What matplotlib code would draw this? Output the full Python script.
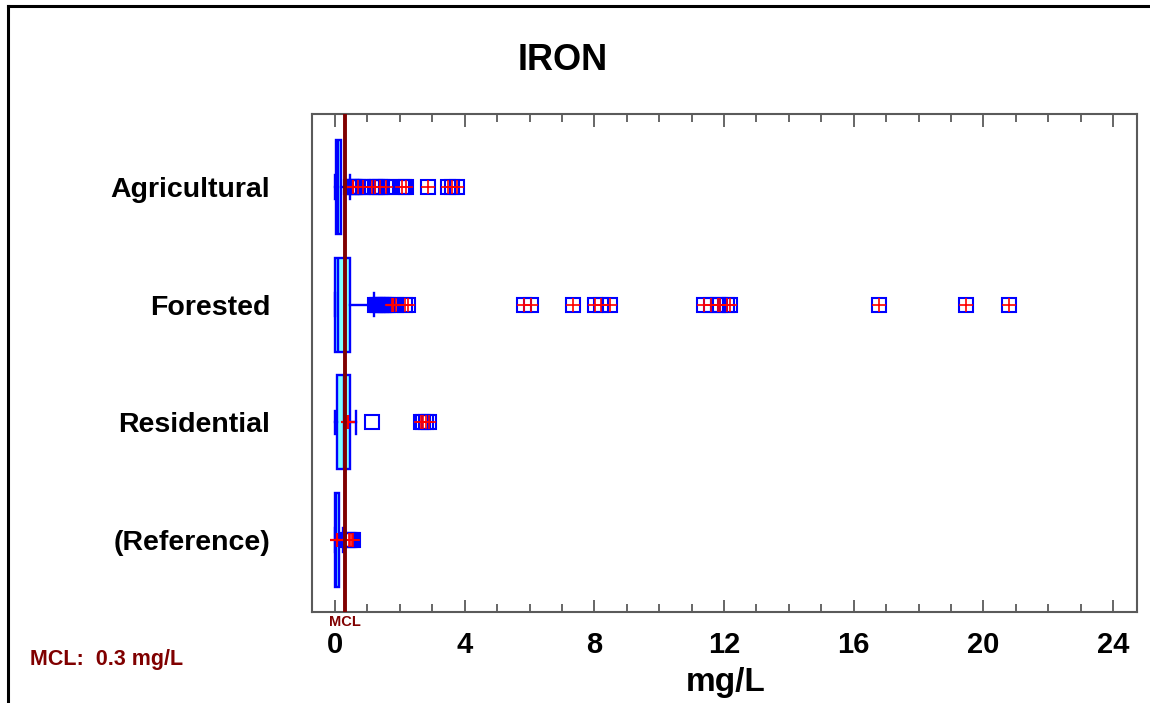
import matplotlib
matplotlib.use("Agg")
import matplotlib.pyplot as plt
from matplotlib.lines import Line2D

plt.rcParams['font.family'] = ['Liberation Sans', 'DejaVu Sans']

# Data (mg/L)
categories = ['Agricultural', 'Forested', 'Residential', '(Reference)']
rows = [4, 3, 2, 1]
q1 = [0.04, 0.0, 0.05, 0.0]
median = [0.09, 0.1, 0.28, 0.04]
q3 = [0.2, 0.45, 0.46, 0.12]
whisker_lo = [0.0, 0.0, 0.0, 0.0]
whisker_hi = [0.46, 1.2, 0.65, 0.25]
means = [0.55, 1.8, 0.4, 0.05]

# outside points (plain squares)
outside = [
    [0.48, 0.5, 0.52, 0.55, 0.58, 0.62, 0.66, 0.95, 1.3, 1.45, 1.62, 2.12],
    [1.22, 1.28, 1.33, 1.38, 1.42, 1.47, 1.52, 1.58, 1.63],
    [1.13],
    [0.37, 0.39],
]
# far outside points (squares with plus)
far_outside = [
    [0.71, 0.85, 1.13, 1.23, 1.39, 1.56, 2.06, 2.2, 2.88, 3.48, 3.6, 3.76],
    [1.75, 1.87, 2.16, 2.25, 5.84, 6.05, 7.35, 8.01, 8.2, 8.47,
     11.38, 11.6, 11.8, 11.89, 12.1, 12.18, 16.78, 19.46, 20.79],
    [2.65, 2.72, 2.8, 2.9],
    [0.42, 0.46, 0.51, 0.57],
]
mcl = 0.3

BLUE = '#0000ff'
RED = '#ff0000'
DARKRED = '#800000'
GRAY = '#5a5a5a'

fig = plt.figure(figsize=(11.5, 7.03), dpi=100)
ax = fig.add_axes([0.2713, 0.1294, 0.7174, 0.7084])

stats = []
for i in range(len(categories)):
    stats.append(dict(med=median[i], q1=q1[i], q3=q3[i],
                      whislo=whisker_lo[i], whishi=whisker_hi[i],
                      mean=means[i], fliers=outside[i]))

ax.bxp(stats, positions=rows, widths=0.8, capwidths=0.2,
       orientation='horizontal', patch_artist=True,
       showmeans=True, showfliers=True,
       boxprops=dict(facecolor='#80ffff', edgecolor=BLUE, linewidth=1.7),
       medianprops=dict(color=BLUE, linewidth=1.7),
       whiskerprops=dict(color=BLUE, linewidth=1.7),
       capprops=dict(color=BLUE, linewidth=1.7),
       meanprops=dict(marker='+', markersize=10.5, markeredgecolor=RED,
                      markeredgewidth=1.6, linestyle='none'),
       flierprops=dict(marker='s', markersize=10.5, markerfacecolor='none',
                       markeredgecolor=BLUE, markeredgewidth=1.5,
                       linestyle='none'))

# far outside points: square with red plus
for y, vals in zip(rows, far_outside):
    ax.plot(vals, [y] * len(vals), linestyle='none', marker='s',
            markersize=10.5, markerfacecolor='none', markeredgecolor=BLUE,
            markeredgewidth=1.5)
    ax.plot(vals, [y] * len(vals), linestyle='none', marker='+',
            markersize=10.5, markeredgecolor=RED, markeredgewidth=1.2)

# MCL line
ax.axvline(mcl, color=DARKRED, linewidth=2.8, zorder=5)

ax.set_xlim(-0.71, 24.74)
ax.set_ylim(0.388, 4.62)
ax.set_xticks(range(0, 25, 4))
ax.set_xticks(range(0, 25, 1), minor=True)
ax.set_xticklabels([str(v) for v in range(0, 25, 4)],
                   fontsize=21, fontweight='bold')
ax.tick_params(axis='x', which='both', direction='in', top=True,
               bottom=True, color=GRAY, width=1.3, pad=14)
ax.tick_params(axis='x', which='major', length=9)
ax.tick_params(axis='x', which='minor', length=6)

ax.set_yticks(rows)
ax.set_yticklabels(categories, fontsize=20.5, fontweight='bold')
ax.tick_params(axis='y', length=0, pad=30)

for sp in ax.spines.values():
    sp.set_color(GRAY)
    sp.set_linewidth(1.5)

# texts
ax.text(mcl, -0.006, 'MCL', transform=ax.get_xaxis_transform(),
        ha='center', va='top', fontsize=10.5, fontweight='bold',
        color=DARKRED)
fig.text(563 / 1150, 1 - 60 / 703, 'IRON', ha='center', va='center',
         fontsize=26, fontweight='bold')
fig.text(726 / 1150, 1 - 682 / 703, 'mg/L', ha='center', va='center',
         fontsize=24, fontweight='bold')
fig.text(30 / 1150, 1 - 660 / 703, 'MCL:  0.3 mg/L', ha='left',
         va='center', fontsize=15.5, fontweight='bold', color=DARKRED)

# outer frame lines (top and left)
fig.add_artist(Line2D([8 / 1150, 1.0], [1 - 6 / 703, 1 - 6 / 703],
                      color='black', linewidth=2.2))
fig.add_artist(Line2D([8 / 1150, 8 / 1150], [0, 1 - 6 / 703],
                      color='black', linewidth=2.2))

fig.savefig('out.png', dpi=100)
